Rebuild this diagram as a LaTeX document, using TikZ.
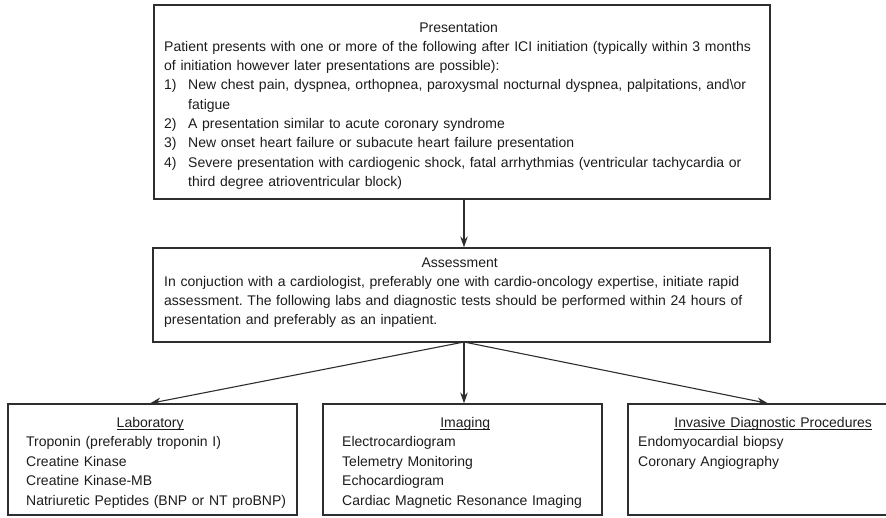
\documentclass[tikz,border=0pt]{standalone}
\usepackage{fontspec}
\setmainfont{Liberation Sans}
\usetikzlibrary{arrows.meta}
\definecolor{ln}{HTML}{2E2E2E}
\definecolor{tx}{HTML}{1C1C1C}
\newcommand\myul[1]{\setbox0\hbox{#1}\rlap{\rule[-2.4pt]{\wd0}{0.9pt}}\box0}
\frenchspacing
\begin{document}
\frenchspacing
\begin{tikzpicture}[x=1pt,y=-1pt,
  box/.style={draw=ln, line width=1.25pt, inner sep=0pt},
  txt/.style={anchor=base west, inner sep=0pt, text width=650pt, align=left, text=tx,
              font=\fontsize{14}{19.3}\selectfont\frenchspacing},
  btxt/.style={txt, font=\fontsize{14}{19.6}\selectfont\frenchspacing},
  arr/.style={draw=ln, line width=1.1pt, -{Stealth[length=11pt,width=7.5pt]}}]
\clip (0,0) rectangle (886,517);
% boxes
\node[box, minimum width=616pt, minimum height=194pt] (pres) at (462,102) {};
\node[box, minimum width=617pt, minimum height=94pt] (assess) at (461.5,295) {};
\node[box, minimum width=289pt, minimum height=111pt] (lab) at (152.5,459.5) {};
\node[box, minimum width=279pt, minimum height=111pt] (img) at (462.5,459.5) {};
\node[box, minimum width=292pt, minimum height=111pt] (inv) at (774,459.5) {};
% texts
\node[txt] (prestxt) at (164,32) {\makebox[589pt]{Presentation}\\
Patient presents with one or more of the following after ICI initiation (typically within 3 months\\
of initiation however later presentations are possible):\\
\makebox[24pt][l]{1)}New chest pain, dyspnea, orthopnea, paroxysmal nocturnal dyspnea, palpitations, and\textbackslash or\\
\hspace*{24pt}fatigue\\
\makebox[24pt][l]{2)}A presentation similar to acute coronary syndrome\\
\makebox[24pt][l]{3)}New onset heart failure or subacute heart failure presentation\\
\makebox[24pt][l]{4)}Severe presentation with cardiogenic shock, fatal arrhythmias (ventricular tachycardia or\\
\hspace*{24pt}third degree atrioventricular block)};
\node[txt] (assesstxt) at (164,267) {\makebox[591pt]{Assessment}\\
In conjuction with a cardiologist, preferably one with cardio-oncology expertise, initiate rapid\\
assessment. The following labs and diagnostic tests should be performed within 24 hours of\\
presentation and preferably as an inpatient.};
\node[btxt] (labtxt) at (26,427) {\makebox[248pt]{\myul{Laboratory}}\\
Troponin (preferably troponin I)\\
Creatine Kinase\\
Creatine Kinase-MB\\
Natriuretic Peptides (BNP or NT proBNP)};
\node[btxt] (imgtxt) at (342,427) {\makebox[246pt]{\myul{Imaging}}\\
Electrocardiogram\\
Telemetry Monitoring\\
Echocardiogram\\
Cardiac Magnetic Resonance Imaging};
\node[btxt] (invtxt) at (638,427) {\makebox[270pt]{\myul{Invasive Diagnostic Procedures}}\\
Endomyocardial biopsy\\
Coronary Angiography};
% connectors
\coordinate (hub) at (464,342);
\draw[arr] (pres.south -| hub) -- (assess.north -| hub);
\draw[arr] (hub) -- ([xshift=-2.5pt]lab.north);
\draw[arr] (hub) -- (img.north -| hub);
\draw[arr] (hub) -- ([xshift=-6pt]inv.north);
\end{tikzpicture}
\end{document}
